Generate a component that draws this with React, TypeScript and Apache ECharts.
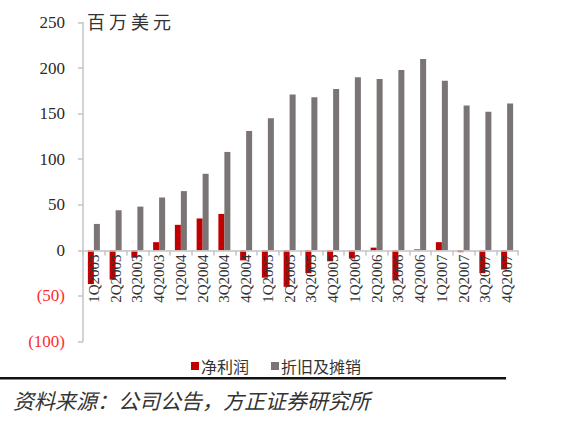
import React, { useEffect, useRef } from "react";
import * as echarts from "echarts";

const categories = [
  "1Q2003", "2Q2003", "3Q2003", "4Q2003",
  "1Q2004", "2Q2004", "3Q2004", "4Q2004",
  "1Q2005", "2Q2005", "3Q2005", "4Q2005",
  "1Q2006", "2Q2006", "3Q2006", "4Q2006",
  "1Q2007", "2Q2007", "3Q2007", "4Q2007",
];
const netProfit = [-37, -32, -8, 9, 28, 35, 40, -11, -30, -40, -25, -12, -9, 3, -33, 1, 9, -2, -25, -21];
const depreciation = [29, 44, 48, 58, 65, 84, 108, 131, 145, 171, 168, 177, 190, 188, 198, 210, 186, 159, 152, 161];
const seriesNames = ["净利润", "折旧及摊销"];
const unitLabel = "百 万 美 元";
const sourceText = "资料来源：公司公告，方正证券研究所";

export default function App() {
  const ref = useRef<HTMLDivElement>(null);
  useEffect(() => {
    if (!ref.current) return;
    const chart = echarts.init(ref.current, null, { renderer: "svg" });
    const serif = "'Liberation Serif', 'Times New Roman', serif";
    const cjk = "'Noto Sans CJK SC', sans-serif";
    const axisGray = "#c4c4c4";
    chart.setOption({
      animation: false,
      backgroundColor: "#ffffff",
      grid: [
        { left: 83, right: 52, top: 22.5, bottom: 93.5, containLabel: false },
        { left: 83, right: 52, top: 22.5, height: 228, containLabel: false },
      ],
      legend: {
        data: seriesNames,
        left: 186,
        top: 353,
        itemWidth: 8,
        itemHeight: 8,
        itemGap: 22,
        icon: "rect",
        textStyle: { fontFamily: cjk, fontSize: 16, color: "#333", padding: [0, 0, 0, -3] },
      },
      xAxis: [
        {
          type: "category",
          data: categories,
          gridIndex: 0,
          axisLine: { show: false, onZero: false },
          axisTick: { show: false },
          axisLabel: { show: false },
        },
        {
          type: "category",
          data: categories,
          gridIndex: 1,
          position: "bottom",
          z: 5,
          axisLine: { show: true, onZero: false, lineStyle: { color: axisGray, width: 1.5 } },
          axisTick: { show: true, length: 5, lineStyle: { color: axisGray, width: 1.5 } },
          axisLabel: {
            interval: 0,
            rotate: 90,
            margin: 4,
            fontFamily: serif,
            fontSize: 15,
            color: "#333",
          },
        },
      ],
      yAxis: [
        {
          type: "value",
          gridIndex: 0,
          min: -100,
          max: 250,
          interval: 50,
          splitLine: { show: false },
          axisLine: { show: true, lineStyle: { color: axisGray, width: 1.5 } },
          axisTick: { show: true, length: 5, lineStyle: { color: axisGray, width: 1.5 } },
          axisLabel: {
            margin: 18,
            fontFamily: serif,
            fontSize: 17,
            formatter: (v: number) => (v < 0 ? `(${-v})` : `${v}`),
            color: (v: any) => (Number(v) < 0 ? "#ff2b2b" : "#2a2a2a"),
          },
        },
        {
          type: "value",
          gridIndex: 1,
          min: 0,
          max: 250,
          show: false,
        },
      ],
      series: [
        {
          name: seriesNames[0],
          type: "bar",
          xAxisIndex: 0,
          yAxisIndex: 0,
          data: netProfit,
          barWidth: 6,
          barGap: "0%",
          itemStyle: { color: "#c00000" },
        },
        {
          name: seriesNames[1],
          type: "bar",
          xAxisIndex: 0,
          yAxisIndex: 0,
          data: depreciation,
          barWidth: 6,
          barGap: "0%",
          itemStyle: { color: "#7a7474" },
        },
      ],
      graphic: [
        {
          type: "text",
          left: 87,
          top: 12,
          style: { text: unitLabel, font: `18px ${cjk}`, fill: "#333" },
        },
        {
          type: "rect",
          shape: { x: 0, y: 377, width: 506, height: 2.5 },
          style: { fill: "#111" },
        },
        {
          type: "text",
          left: 13,
          top: 389,
          style: { text: sourceText, font: `italic 21px ${cjk}`, fill: "#333" },
        },
      ],
    });
    return () => chart.dispose();
  }, []);
  return (
    <div
      ref={ref}
      style={{ position: "fixed", left: 0, top: 0, width: 570, height: 435 }}
    />
  );
}
